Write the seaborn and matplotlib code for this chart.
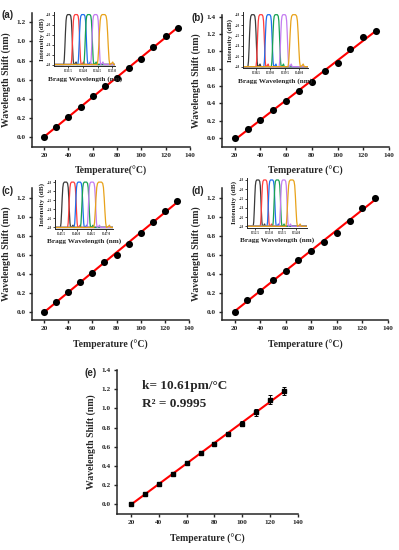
import numpy as np
import pandas as pd
import matplotlib
matplotlib.use("Agg")
import matplotlib.pyplot as plt
import seaborn as sns

# ---- data ----
temperature = [20, 30, 40, 50, 60, 70, 80, 90, 100, 110, 120, 130]

shift_a = [0.00, 0.11, 0.21, 0.32, 0.43, 0.53, 0.62, 0.72, 0.82, 0.94, 1.06, 1.14]
shift_b = [0.00, 0.10, 0.21, 0.32, 0.43, 0.54, 0.65, 0.77, 0.87, 1.03, 1.16, 1.23]
shift_c = [0.00, 0.10, 0.21, 0.31, 0.41, 0.52, 0.60, 0.71, 0.83, 0.94, 1.06, 1.16]
shift_d = [0.00, 0.12, 0.22, 0.33, 0.43, 0.54, 0.64, 0.73, 0.83, 0.95, 1.09, 1.20]
shift_e = [0.00, 0.11, 0.21, 0.32, 0.43, 0.53, 0.63, 0.73, 0.84, 0.96, 1.09, 1.18]
err_e = [0.003, 0.004, 0.005, 0.006, 0.006, 0.008, 0.015, 0.02, 0.025, 0.035, 0.045, 0.045]

# inset spectra: peak centres (nm) per panel, one per curve
peaks_a = [1533.52, 1533.77, 1534.00, 1534.20, 1534.43, 1534.70]
peaks_b = [1538.39, 1538.67, 1538.94, 1539.20, 1539.47, 1539.82]
peaks_c = [1545.63, 1545.87, 1546.09, 1546.30, 1546.52, 1546.79]
peaks_d = [1552.59, 1552.85, 1553.10, 1553.31, 1553.55, 1553.84]
peak_width = [1.0, 1.0, 1.0, 1.0, 1.0, 1.25]

# shared reflection profile: offset from centre (nm) and intensity (dB)
profile_dx = [-3.0, -0.17, -0.15, -0.13, -0.11, -0.09, -0.07, -0.04, 0.0,
              0.04, 0.07, 0.09, 0.11, 0.13, 0.15, 0.17, 0.22, 0.25, 0.28, 3.0]
profile_db = [-28.0, -28.0, -27.0, -24.5, -21.5, -19.2, -18.3, -18.0, -18.0,
              -18.0, -18.3, -19.2, -21.5, -24.5, -27.0, -28.0, -27.8, -27.5, -28.0, -28.0]

curve_colors = ["#3a3a3a", "#ff3c3c", "#1f6fee", "#17a152", "#c37cf0", "#e8a21a"]

sns.set_style("ticks")
plt.rcParams["font.family"] = ["Liberation Serif", "DejaVu Serif"]
plt.rcParams["font.weight"] = "bold"
plt.rcParams["axes.labelweight"] = "bold"
plt.rcParams["axes.linewidth"] = 1.1

fig = plt.figure(figsize=(3.99, 5.5), dpi=100)


def main_panel(rect, y, ylim, yticks, xlabel, tag):
    ax = fig.add_axes(rect)
    df = pd.DataFrame({"T": temperature, "S": y})
    sns.regplot(data=df, x="T", y="S", ax=ax, scatter=False, ci=None, truncate=True,
                line_kws=dict(color="red", lw=1.5, zorder=2))
    sns.scatterplot(data=df, x="T", y="S", ax=ax, color="black", s=26,
                    edgecolor="black", linewidth=0, zorder=3)
    ax.set_xlim(10, 140)
    ax.set_ylim(*ylim)
    ax.set_xticks([20, 40, 60, 80, 100, 120, 140])
    ax.set_yticks(yticks)
    ax.set_yticklabels([f"{v:.1f}" for v in yticks])
    ax.tick_params(labelsize=5.2, length=2.5, width=1, pad=2)
    ax.set_xlabel(xlabel, fontsize=7, labelpad=6)
    ax.set_ylabel("Wavelength Shift (nm)", fontsize=7, labelpad=4)
    sns.despine(ax=ax)
    fig.text(rect[0] - 0.075, rect[1] + rect[3] - 0.005, tag, fontsize=7,
             fontweight="bold", family="Liberation Sans", va="center")
    return ax


def inset(rect, peaks, xlim, xticks):
    ax = fig.add_axes(rect)
    for c, w, col in zip(peaks, peak_width, curve_colors):
        xs = [c + d * w for d in profile_dx]
        sns.lineplot(x=xs, y=profile_db, ax=ax, color=col, lw=0.9, sort=False)
    ax.set_xlim(*xlim)
    ax.set_ylim(-28.3, -17.5)
    ax.set_xticks(xticks)
    ax.set_xticklabels([f"{v:.1f}" for v in xticks])
    ax.set_yticks([-18, -20, -22, -24, -26, -28])
    ax.tick_params(labelsize=2.3, length=1.2, width=0.6, pad=1)
    ax.set_xlabel("Bragg Wavelength (nm)", fontsize=5.2, labelpad=2)
    ax.set_ylabel("Intensity (dB)", fontsize=5.2, labelpad=1)
    for s in ax.spines.values():
        s.set_linewidth(0.7)
    sns.despine(ax=ax)
    return ax


main_panel([0.080, 0.733, 0.396, 0.244], shift_a, (-0.1, 1.3),
           [0.0, 0.2, 0.4, 0.6, 0.8, 1.0, 1.2], "Temperature(\u00b0C)", "(a)")
inset([0.136, 0.880, 0.153, 0.098], peaks_a, (1533.03, 1535.1),
      [1533.5, 1534.0, 1534.5, 1535.0])

main_panel([0.556, 0.733, 0.419, 0.240], shift_b, (-0.1, 1.42),
           [0.0, 0.2, 0.4, 0.6, 0.8, 1.0, 1.2, 1.4], "Temperature (\u00b0C)", "(b)")
inset([0.609, 0.876, 0.163, 0.102], peaks_b, (1538.05, 1540.3),
      [1538.5, 1539.0, 1539.5, 1540.0])

main_panel([0.080, 0.418, 0.394, 0.240], shift_c, (-0.09, 1.3),
           [0.0, 0.2, 0.4, 0.6, 0.8, 1.0, 1.2], "Temperature (\u00b0C)", "(c)")
inset([0.138, 0.584, 0.145, 0.089], peaks_c, (1545.28, 1547.22),
      [1545.5, 1546.0, 1546.5, 1547.0])

main_panel([0.556, 0.418, 0.416, 0.240], shift_d, (-0.09, 1.3),
           [0.0, 0.2, 0.4, 0.6, 0.8, 1.0, 1.2], "Temperature (\u00b0C)", "(d)")
inset([0.619, 0.586, 0.150, 0.091], peaks_d, (1552.19, 1554.4),
      [1552.5, 1553.0, 1553.5, 1554.0])

# ---- panel (e): averaged response with error bars ----
ax = fig.add_axes([0.293, 0.0655, 0.454, 0.262])
df_e = pd.DataFrame({"T": temperature, "S": shift_e, "E": err_e})
sns.regplot(data=df_e, x="T", y="S", ax=ax, scatter=False, ci=None, truncate=True,
            line_kws=dict(color="red", lw=1.5, zorder=2))
ax.errorbar(df_e["T"], df_e["S"], yerr=df_e["E"], fmt="s", color="black",
            ms=2.2, elinewidth=0.7, capsize=1.5, capthick=0.7, zorder=3)
ax.set_xlim(10, 140)
ax.set_ylim(-0.1, 1.4)
ax.set_xticks([20, 40, 60, 80, 100, 120, 140])
ey = [0.0, 0.2, 0.4, 0.6, 0.8, 1.0, 1.2, 1.4]
ax.set_yticks(ey)
ax.set_yticklabels([f"{v:.1f}" for v in ey])
ax.tick_params(labelsize=5.2, length=2.5, width=1, pad=2)
ax.set_xlabel("Temperature (\u00b0C)", fontsize=7, labelpad=6)
ax.set_ylabel("Wavelength Shift (nm)", fontsize=7, labelpad=4)
sns.despine(ax=ax)
ax.text(0.14, 0.89, "k= 10.61pm/\u00b0C", transform=ax.transAxes, fontsize=9.5,
        fontweight="bold", va="center")
ax.text(0.14, 0.765, "R\u00b2 = 0.9995", transform=ax.transAxes, fontsize=9.5,
        fontweight="bold", va="center")
fig.text(0.213, 0.322, "(e)", fontsize=7, fontweight="bold", family="Liberation Sans",
         va="center")

fig.savefig("out.png", dpi=100)
